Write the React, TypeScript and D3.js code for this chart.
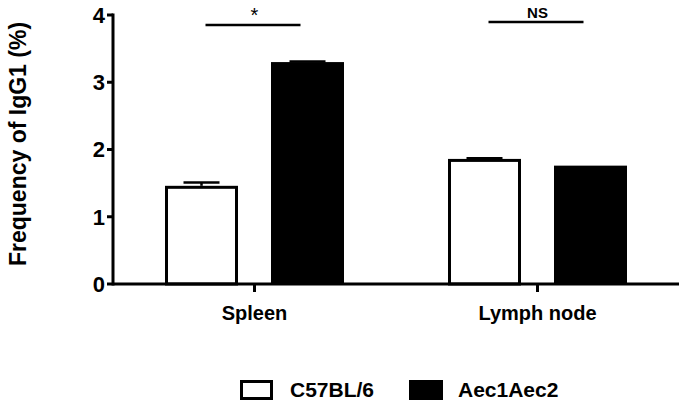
import React from "react";
import * as d3 from "d3";

const categories = ["Spleen", "Lymph node"];
const series = ["C57BL/6", "Aec1Aec2"];
const c57Values = [1.46, 1.86];
const c57Errors = [0.05, 0.01];
const aecValues = [3.3, 1.76];
const aecErrors = [0.01, 0.0];
const yTicks = [0, 1, 2, 3, 4];
const sigLabels = ["*", "NS"];
const seriesFill = ["#ffffff", "#000000"];

export default function App() {
  const W = 686, H = 408;
  const x0 = 113, x1 = 679;
  const y = d3.scaleLinear().domain([0, 4]).range([284, 15]);
  const xBand = d3.scaleBand().domain(categories).range([x0, x1]).paddingInner(0).paddingOuter(0);
  const groupW = xBand.bandwidth();
  const barW = 73;
  const gap = 33;
  const values = [c57Values, aecValues];
  const errors = [c57Errors, aecErrors];
  const font = "Arial, 'Liberation Sans', Helvetica, sans-serif";

  return (
    <svg width={W} height={H} style={{ position: "absolute", left: 0, top: 0 }} fontFamily={font}>
      <rect x={0} y={0} width={W} height={H} fill="#fff" />
      {categories.map((c, ci) => {
        const cx = (xBand(c) as number) + groupW / 2;
        return (
          <g key={c}>
            {series.map((s, si) => {
              const left = si === 0 ? cx - gap / 2 - barW : cx + gap / 2;
              const v = values[si][ci];
              const e = errors[si][ci];
              const top = y(v);
              const isWhite = si === 0;
              return (
                <g key={s}>
                  {e > 0 && (
                    <g stroke="#000" strokeWidth={2.5}>
                      <line x1={left + barW / 2} x2={left + barW / 2} y1={top} y2={y(v + e)} />
                      <line x1={left + barW / 2 - 18} x2={left + barW / 2 + 18} y1={y(v + e)} y2={y(v + e)} />
                    </g>
                  )}
                  <rect
                    x={isWhite ? left + 1.5 : left}
                    y={isWhite ? top + 1.5 : top}
                    width={isWhite ? barW - 3 : barW}
                    height={isWhite ? y(0) - top - 1.5 : y(0) - top}
                    fill={seriesFill[si]}
                    stroke={isWhite ? "#000" : "none"}
                    strokeWidth={3}
                  />
                </g>
              );
            })}
            <line x1={cx} x2={cx} y1={y(0)} y2={y(0) + 8} stroke="#000" strokeWidth={3} />
            <text x={cx} y={320} textAnchor="middle" fontSize={20} fontWeight="bold">{c}</text>
            <line x1={cx - 49} x2={cx + 46} y1={ci === 0 ? 25 : 22} y2={ci === 0 ? 25 : 22} stroke="#000" strokeWidth={2.5} />
            <text x={cx} y={ci === 0 ? 22 : 18} textAnchor="middle" fontSize={ci === 0 ? 20 : 15} fontWeight={ci === 0 ? "normal" : "bold"}>{sigLabels[ci]}</text>
          </g>
        );
      })}
      <line x1={x0} x2={x1} y1={y(0)} y2={y(0)} stroke="#000" strokeWidth={3} />
      <line x1={x0} x2={x0} y1={y(4) - 1.5} y2={y(0) + 1.5} stroke="#000" strokeWidth={3} />
      {yTicks.map((t) => (
        <g key={t}>
          <line x1={x0 - 6} x2={x0} y1={y(t)} y2={y(t)} stroke="#000" strokeWidth={3} />
          <text x={x0 - 8} y={y(t)} dy="0.36em" textAnchor="end" fontSize={22} fontWeight="bold">{t}</text>
        </g>
      ))}
      <text transform={`translate(26,144) rotate(-90)`} textAnchor="middle" fontSize={23} fontWeight="bold">Frequency of IgG1 (%)</text>
      <rect x={241.5} y={381.5} width={30} height={17} fill="#fff" stroke="#000" strokeWidth={3} />
      <text x={290} y={397} fontSize={21} fontWeight="bold">{series[0]}</text>
      <rect x={409} y={380} width={34} height={20} fill="#000" />
      <text x={458} y={397} fontSize={21} fontWeight="bold">{series[1]}</text>
    </svg>
  );
}
